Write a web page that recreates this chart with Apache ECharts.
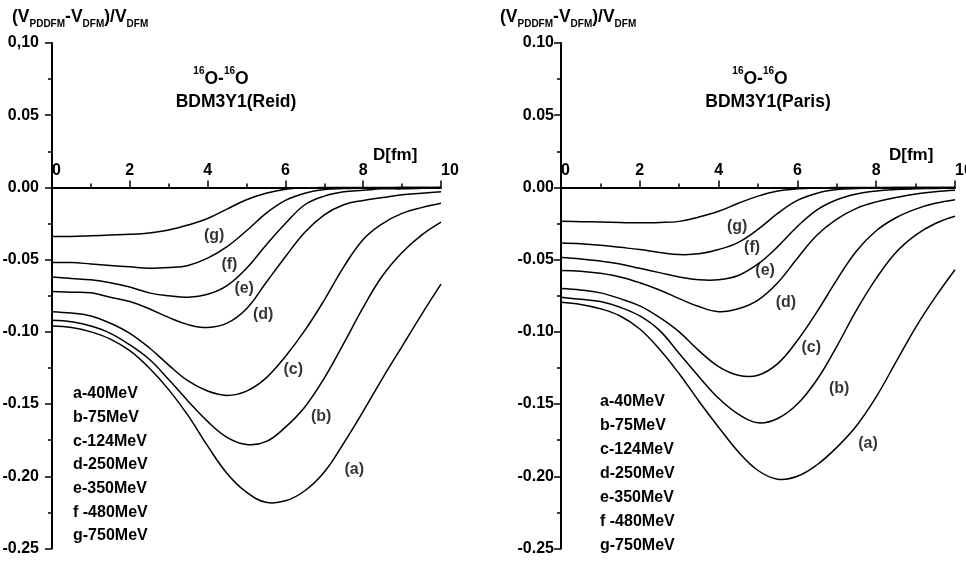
<!DOCTYPE html>
<html>
<head>
<meta charset="utf-8">
<script src="https://cdn.jsdelivr.net/npm/echarts@6/dist/echarts.min.js"></script>
<style>
  html, body { margin: 0; padding: 0; background: #fff; }
  #chart { width: 966px; height: 561px; }
</style>
</head>
<body>
<div id="chart"></div>
<script>
// Relative difference (V_PDDFM - V_DFM)/V_DFM versus separation D for 16O-16O
const distance = [0, 0.5, 1, 1.5, 2, 2.5, 3, 3.5, 4, 4.5, 5, 5.5, 6, 6.5, 7, 7.5, 8, 8.5, 9, 9.5, 10];

// BDM3Y1 (Reid) interaction, curves a..g
const reidA = [-0.096, -0.097, -0.100, -0.105, -0.113, -0.125, -0.140, -0.158, -0.179, -0.198, -0.211, -0.218, -0.217, -0.210, -0.197, -0.177, -0.155, -0.132, -0.110, -0.088, -0.067];
const reidB = [-0.092, -0.093, -0.096, -0.101, -0.109, -0.119, -0.133, -0.148, -0.162, -0.173, -0.178, -0.176, -0.166, -0.152, -0.132, -0.108, -0.083, -0.061, -0.045, -0.033, -0.024];
const reidC = [-0.086, -0.087, -0.089, -0.094, -0.101, -0.111, -0.123, -0.134, -0.141, -0.144, -0.141, -0.132, -0.117, -0.099, -0.078, -0.055, -0.036, -0.025, -0.018, -0.014, -0.011];
const reidD = [-0.072, -0.0725, -0.073, -0.076, -0.079, -0.084, -0.090, -0.095, -0.097, -0.094, -0.084, -0.066, -0.048, -0.031, -0.019, -0.012, -0.009, -0.007, -0.005, -0.004, -0.003];
const reidE = [-0.062, -0.063, -0.064, -0.066, -0.069, -0.073, -0.075, -0.076, -0.074, -0.068, -0.056, -0.040, -0.025, -0.012, -0.006, -0.003, -0.002, -0.001, -0.001, -0.0005, 0];
const reidF = [-0.052, -0.052, -0.053, -0.054, -0.055, -0.056, -0.0555, -0.054, -0.049, -0.041, -0.030, -0.018, -0.009, -0.004, -0.0015, -0.0008, -0.0004, -0.0002, -0.0001, 0, 0];
const reidG = [-0.034, -0.034, -0.0335, -0.033, -0.0325, -0.0315, -0.0295, -0.026, -0.0215, -0.015, -0.0085, -0.004, -0.0012, -0.0003, 0, 0, 0, 0, 0, 0, 0];

// BDM3Y1 (Paris) interaction, curves a..g
const parisA = [-0.0795, -0.081, -0.084, -0.089, -0.098, -0.112, -0.129, -0.148, -0.166, -0.183, -0.196, -0.202, -0.200, -0.192, -0.180, -0.165, -0.145, -0.121, -0.097, -0.076, -0.057];
const parisB = [-0.076, -0.0775, -0.079, -0.083, -0.089, -0.099, -0.115, -0.131, -0.146, -0.157, -0.163, -0.160, -0.150, -0.133, -0.110, -0.085, -0.063, -0.045, -0.033, -0.025, -0.020];
const parisC = [-0.070, -0.071, -0.073, -0.077, -0.082, -0.090, -0.100, -0.113, -0.124, -0.130, -0.130, -0.122, -0.106, -0.086, -0.064, -0.044, -0.030, -0.021, -0.015, -0.011, -0.0085];
const parisD = [-0.0575, -0.058, -0.0595, -0.062, -0.066, -0.071, -0.077, -0.0825, -0.086, -0.084, -0.078, -0.066, -0.049, -0.033, -0.022, -0.0145, -0.010, -0.007, -0.0045, -0.003, -0.002];
const parisE = [-0.0485, -0.0495, -0.051, -0.053, -0.056, -0.059, -0.062, -0.064, -0.064, -0.061, -0.053, -0.041, -0.027, -0.0155, -0.0085, -0.0045, -0.0025, -0.0015, -0.001, -0.0007, -0.0005];
const parisF = [-0.0385, -0.039, -0.040, -0.0415, -0.043, -0.045, -0.0465, -0.046, -0.043, -0.038, -0.029, -0.018, -0.009, -0.004, -0.0015, -0.0007, -0.0003, 0, 0, 0, 0];
const parisG = [-0.0235, -0.0237, -0.024, -0.0243, -0.0245, -0.0243, -0.0235, -0.0205, -0.0165, -0.011, -0.006, -0.0025, -0.001, -0.0003, 0, 0, 0, 0, 0, 0, 0];

const curveTags = ['(a)', '(b)', '(c)', '(d)', '(e)', '(f)', '(g)'];
const energyLabels = ['a-40MeV', 'b-75MeV', 'c-124MeV', 'd-250MeV', 'e-350MeV', 'f -480MeV', 'g-750MeV'];
const panelModels = ['BDM3Y1(Reid)', 'BDM3Y1(Paris)'];

// Where each curve tag sits, in (D, value) coordinates
const reidTagD = [7.77, 6.92, 6.20, 5.43, 4.94, 4.56, 4.17];
const reidTagV = [-0.1955, -0.1588, -0.1262, -0.088, -0.0702, -0.0535, -0.0335];
const parisTagD = [7.79, 7.06, 6.35, 5.71, 5.18, 4.85, 4.47];
const parisTagV = [-0.1775, -0.1394, -0.1110, -0.0798, -0.0576, -0.0417, -0.0272];

// Y tick labels (the left panel prints its top label with a comma)
const yTickValues = [-0.25, -0.20, -0.15, -0.10, -0.05, 0.00, 0.05, 0.10];
const reidYTicks = ['-0.25', '-0.20', '-0.15', '-0.10', '-0.05', '0.00', '0.05', '0,10'];
const parisYTicks = ['-0.25', '-0.20', '-0.15', '-0.10', '-0.05', '0.00', '0.05', '0.10'];
const xTickLabels = ['0', '2', '4', '6', '8', '10'];

const Y_MIN = -0.25, Y_MAX = 0.10;
const FONT = '"Liberation Sans", Arial, Helvetica, sans-serif';
const INK = '#000';
const GRID_H = 505.5;

const chart = echarts.init(document.getElementById('chart'), null, { renderer: 'canvas' });

function pair(values) {
  return distance.map((d, i) => [d, values[i]]);
}

function tickFormatter(labels) {
  return function (v) {
    let best = 0;
    yTickValues.forEach((t, i) => {
      if (Math.abs(t - v) < Math.abs(yTickValues[best] - v)) best = i;
    });
    return labels[best];
  };
}

// The D axis runs along value 0 of the vertical axis, labels above the line
function xAxisFor(idx) {
  return {
    type: 'value', gridIndex: idx, min: 0, max: 10, interval: 2,
    position: 'bottom',
    offset: -GRID_H * (0 - Y_MIN) / (Y_MAX - Y_MIN),
    axisLine: { show: true, onZero: false, lineStyle: { color: INK, width: 2 } },
    axisTick: { show: true, inside: true, length: 7, lineStyle: { color: INK, width: 1.5 } },
    minorTick: { show: true, splitNumber: 2, length: 4, lineStyle: { color: INK, width: 1.5 } },
    minorSplitLine: { show: false },
    splitLine: { show: false },
    axisLabel: {
      inside: true, margin: 9, color: INK, fontSize: 16, fontWeight: 'bold', fontFamily: FONT,
      alignMinLabel: 'left', alignMaxLabel: 'left',
      formatter: v => xTickLabels[Math.round(v / 2)]
    }
  };
}

function yAxisFor(idx, labels, margin) {
  return {
    type: 'value', gridIndex: idx, min: Y_MIN, max: Y_MAX, interval: 0.05,
    axisLine: { show: true, onZero: false, lineStyle: { color: INK, width: 2 } },
    axisTick: { show: true, inside: false, length: 7, lineStyle: { color: INK, width: 1.5 } },
    minorTick: { show: true, splitNumber: 2, length: 4, lineStyle: { color: INK, width: 1.5 } },
    splitLine: { show: false },
    axisLabel: {
      margin: margin, color: INK, fontSize: 16, fontWeight: 'bold', fontFamily: FONT,
      formatter: tickFormatter(labels)
    }
  };
}

// Each curve is one smooth path through its points, mapped by the grid's axes
function curveSeries(idx, name, values) {
  const pts = pair(values);
  return {
    type: 'custom', name: name, coordinateSystem: 'cartesian2d',
    xAxisIndex: idx, yAxisIndex: idx, data: pts, encode: { x: 0, y: 1 },
    silent: true, z: 3, clip: false,
    renderItem: function (params, api) {
      if (params.dataIndex !== 0) return null;
      return {
        type: 'polyline',
        shape: { points: pts.map(p => api.coord(p)), smooth: 0.4 },
        style: { stroke: INK, lineWidth: 1.5, fill: null }
      };
    }
  };
}

function tagSeries(idx, ds, vs) {
  return {
    type: 'scatter', xAxisIndex: idx, yAxisIndex: idx, silent: true, z: 5,
    symbolSize: 1, itemStyle: { color: 'rgba(0,0,0,0)' },
    data: ds.map((d, i) => [d, vs[i], curveTags[i]]),
    label: {
      show: true, position: 'inside', color: INK, fontSize: 16, fontWeight: 'bold', fontFamily: FONT,
      formatter: p => p.data[2]
    }
  };
}

const richTitle = {
  m: { fontSize: 17.5, fontWeight: 'bold', fontFamily: FONT, color: INK, lineHeight: 24, verticalAlign: 'middle' },
  s: { fontSize: 10, fontWeight: 'bold', fontFamily: FONT, color: INK, lineHeight: 24, verticalAlign: 'bottom' }
};
const richNuc = {
  m: { fontSize: 17.5, fontWeight: 'bold', fontFamily: FONT, color: INK, lineHeight: 22, verticalAlign: 'bottom' },
  sup: { fontSize: 10, fontWeight: 'bold', fontFamily: FONT, color: INK, lineHeight: 22, verticalAlign: 'top' }
};
const yTitle = '{m|(V}{s|PDDFM}{m|-V}{s|DFM}{m|)/V}{s|DFM}';
const nucleusPair = '{sup|16}{m|O-}{sup|16}{m|O}';

function textEl(x, y, text, opts) {
  return {
    type: 'text', x: x, y: y, silent: true, z: 10,
    style: Object.assign({
      text: text, fill: INK, font: 'bold 16px ' + FONT,
      textAlign: 'left', textVerticalAlign: 'middle'
    }, opts || {})
  };
}

const graphics = [
  // axis titles
  textEl(12, 17, yTitle, { rich: richTitle }),
  textEl(500, 17, yTitle, { rich: richTitle }),
  // system and interaction
  textEl(221, 77, nucleusPair, { rich: richNuc, textAlign: 'center' }),
  textEl(236, 102, panelModels[0], { font: 'bold 17.5px ' + FONT, textAlign: 'center' }),
  textEl(760, 77, nucleusPair, { rich: richNuc, textAlign: 'center' }),
  textEl(768, 102, panelModels[1], { font: 'bold 17.5px ' + FONT, textAlign: 'center' }),
  // distance unit
  textEl(373, 155, 'D[fm]', { font: 'bold 17px ' + FONT }),
  textEl(889, 155, 'D[fm]', { font: 'bold 17px ' + FONT }),
  // energy key
  textEl(73, 382, energyLabels.join('\n'), { textVerticalAlign: 'top', lineHeight: 23.7 }),
  textEl(600, 390, energyLabels.join('\n'), { textVerticalAlign: 'top', lineHeight: 23.9 })
];

const reidSets = [reidA, reidB, reidC, reidD, reidE, reidF, reidG];
const parisSets = [parisA, parisB, parisC, parisD, parisE, parisF, parisG];

const series = [];
reidSets.forEach((vals, i) => series.push(curveSeries(0, 'Reid ' + curveTags[i], vals)));
parisSets.forEach((vals, i) => series.push(curveSeries(1, 'Paris ' + curveTags[i], vals)));
series.push(tagSeries(0, reidTagD, reidTagV));
series.push(tagSeries(1, parisTagD, parisTagV));

chart.setOption({
  backgroundColor: '#fff',
  animation: false,
  grid: [
    { left: 52, top: 43, width: 389, height: GRID_H, containLabel: false, outerBoundsMode: 'none' },
    { left: 561, top: 43, width: 394, height: GRID_H, containLabel: false, outerBoundsMode: 'none' }
  ],
  xAxis: [xAxisFor(0), xAxisFor(1)],
  yAxis: [yAxisFor(0, reidYTicks, 13), yAxisFor(1, parisYTicks, 7)],
  series: series,
  graphic: graphics
});
</script>
</body>
</html>
